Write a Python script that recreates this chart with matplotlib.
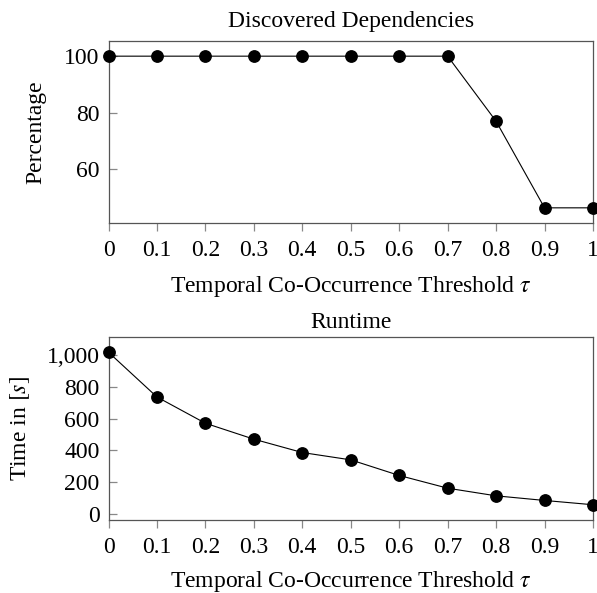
import matplotlib
matplotlib.use("Agg")
import matplotlib.pyplot as plt
from matplotlib.ticker import FuncFormatter, FixedLocator

thresholds = [0, 0.1, 0.2, 0.3, 0.4, 0.5, 0.6, 0.7, 0.8, 0.9, 1.0]
percentage = [100, 100, 100, 100, 100, 100, 100, 100, 76.9, 46.2, 46.2]
runtime = [1017, 736, 571, 471, 387, 341, 243, 163, 115, 86, 59]
x_tick_labels = ["0", "0.1", "0.2", "0.3", "0.4", "0.5", "0.6", "0.7", "0.8", "0.9", "1"]
pct_ticks = [60, 80, 100]
rt_ticks = [0, 200, 400, 600, 800, 1000]

plt.rcParams["font.family"] = ["Liberation Serif", "DejaVu Serif"]
plt.rcParams["mathtext.fontset"] = "stix"
FS = 17

W, H = 597, 593
fig = plt.figure(figsize=(W / 100, H / 100), dpi=100)

def add_axes(top, bottom, left=108.5, right=593):
    return fig.add_axes([left / W, 1 - bottom / H, (right - left) / W, (bottom - top) / H])

ax1 = add_axes(41, 223)
ax2 = add_axes(337, 520)

spine_col = "#555555"

def style(ax, xlabelpad):
    for s in ax.spines.values():
        s.set_color(spine_col)
        s.set_linewidth(0.9)
    ax.tick_params(axis="x", direction="out", length=6, width=0.9, color="#888888",
                   labelsize=FS, pad=6.2)
    ax.tick_params(axis="y", direction="in", length=6, width=0.9, color="#888888",
                   labelsize=FS, pad=6.5)
    ax.set_xlim(0, 1)
    ax.xaxis.set_major_locator(FixedLocator(thresholds))
    ax.set_xticklabels(x_tick_labels)
    ax.set_xlabel(r"Temporal Co-Occurrence Threshold $\tau$", fontsize=FS, labelpad=xlabelpad)

for ax, ys, lp in ((ax1, percentage, 9.5), (ax2, runtime, 7.8)):
    ax.plot(thresholds, ys, color="black", lw=0.8, marker="o", markersize=8.2,
            markerfacecolor="black", markeredgecolor="black", clip_on=False, zorder=3)
    style(ax, lp)

lo, hi = min(percentage), max(percentage)
pad = 0.1 * (hi - lo)
ax1.set_ylim(lo - pad, hi + pad)
ax1.set_yticks(pct_ticks)
ax1.set_title("Discovered Dependencies", fontsize=FS, pad=10.3)
ax1.set_ylabel("Percentage", fontsize=FS, labelpad=12.7)

lo, hi = min(runtime), max(runtime)
pad = 0.1 * (hi - lo)
ax2.set_ylim(lo - pad, hi + pad)
ax2.set_yticks(rt_ticks)
ax2.yaxis.set_major_formatter(FuncFormatter(lambda v, p: f"{int(v):,}"))
ax2.set_title("Runtime", fontsize=FS, pad=6.5)
ax2.set_ylabel(r"Time in $[s]$", fontsize=FS, labelpad=10.5)

fig.savefig("out.png", dpi=100)
